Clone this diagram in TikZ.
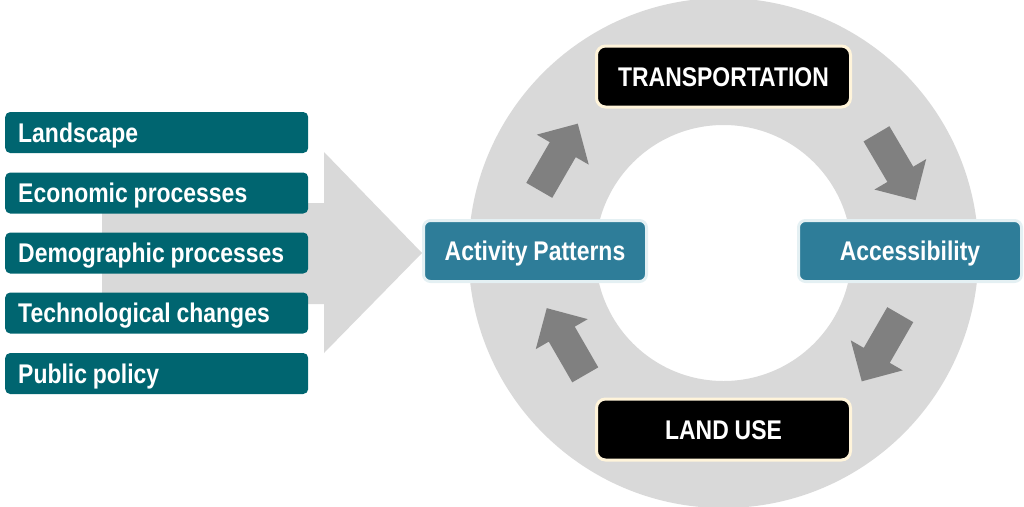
\documentclass[tikz,border=0pt]{standalone}
\usepackage{fontspec}
\newfontfamily\lab[FakeStretch=0.85,WordSpace=0.92]{Liberation Sans}
\definecolor{teal1}{RGB}{0,101,112}
\definecolor{teal2}{RGB}{46,125,153}
\definecolor{tealedge}{RGB}{228,240,243}
\definecolor{cream}{RGB}{255,244,218}
\definecolor{ringgray}{RGB}{217,217,217}
\definecolor{arrgray}{RGB}{128,128,128}
\newcommand{\ftext}[1]{\makebox[277pt][l]{#1}}
\tikzset{
  lbl/.style={font=\lab\bfseries\fontsize{27}{32}\selectfont, text=white,
    text height=19.5pt, text depth=0pt},
  factor/.style={lbl, fill=teal1, rounded corners=5pt, minimum height=41pt,
    inner xsep=13pt, inner ysep=0pt, anchor=west},
  midbox/.style={lbl, fill=teal2, draw=tealedge, line width=3pt, rounded corners=7pt,
    minimum width=223pt, minimum height=61pt, inner sep=0pt},
  blackbox/.style={lbl, fill=black, draw=cream, line width=3pt, rounded corners=9pt,
    minimum width=254pt, minimum height=61pt, inner sep=0pt},
  smallarrow/.style={fill=arrgray}
}
\begin{document}
\begin{tikzpicture}[x=1pt,y=-1pt]
\useasboundingbox (0,0) rectangle (1024,506);
% ring
\fill[ringgray, even odd rule] (723.5,253) circle (255) (723.5,253) circle (128);
% big arrow
\fill[ringgray] (102,203) -- (324,203) -- (324,152) -- (422,253) -- (324,353) -- (324,304) -- (102,304) -- cycle;
% small arrows
\foreach \cx/\cy/\rot in {558.5/157/60, 896/167/-59.5, 881/348/-120, 566/341.5/120}{
  \fill[smallarrow, shift={(\cx,\cy)}, rotate=\rot]
    (-38.5,-15) -- (8.5,-15) -- (8.5,-30) -- (38.5,0) -- (8.5,30) -- (8.5,15) -- (-38.5,15) -- cycle;
}
% factors
\node[factor] (land) at (5,132.5) {\ftext{Landscape}};
\node[factor] (econ) at (5,193) {\ftext{Economic processes}};
\node[factor] (demo) at (5,253) {\ftext{Demographic processes}};
\node[factor] (tech) at (5,313) {\ftext{Technological changes}};
\node[factor] (pub) at (5,373.5) {\ftext{Public policy}};
% cycle boxes
\node[blackbox] (trans) at (723.5,76.5) {TRANSPORTATION};
\node[blackbox] (landuse) at (723.5,429.5) {LAND USE};
\node[midbox] (act) at (535,251) {Activity Patterns};
\node[midbox] (acc) at (910,251) {Accessibility};
\end{tikzpicture}
\end{document}
